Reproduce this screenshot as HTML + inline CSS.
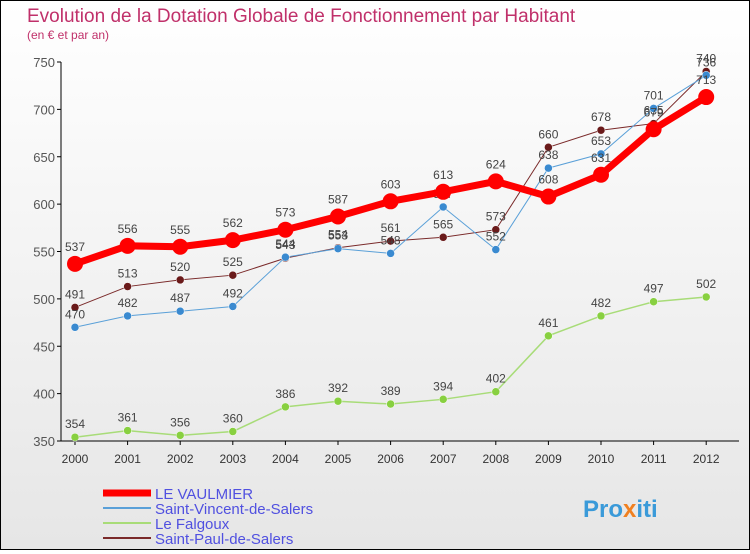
<!DOCTYPE html>
<html><head><meta charset="utf-8"><style>
body{margin:0}
#c{width:748px;height:548px;border:1px solid #000;background:linear-gradient(#fff,#e6e6e6);position:relative;font-family:"Liberation Sans",sans-serif}
</style></head><body>
<div id="c">
<svg id="s" width="748" height="548" xmlns="http://www.w3.org/2000/svg">
<text x="26" y="21" font-size="19" fill="#c0306a">Evolution de la Dotation Globale de Fonctionnement par Habitant</text>
<text x="26" y="38" font-size="12" fill="#c0306a">(en € et par an)</text>
<g id="axes"></g><g id="series"></g><g id="legend"></g>
<text x="582" y="516" font-size="24" font-weight="bold" fill="#3a9ad9">Pro<tspan fill="#f08020">x</tspan>iti</text>
</svg></div>
<script>
const years=[2000,2001,2002,2003,2004,2005,2006,2007,2008,2009,2010,2011,2012];
const yTicks=[350,400,450,500,550,600,650,700,750];
const vaulmier=[537,556,555,562,573,587,603,613,624,608,631,679,713];
const saintVincent=[470,482,487,492,544,553,548,597,552,638,653,701,736];
const leFalgoux=[354,361,356,360,386,392,389,394,402,461,482,497,502];
const saintPaul=[491,513,520,525,543,554,561,565,573,660,678,685,740];
const NS="http://www.w3.org/2000/svg";
const x=i=>74+i*52.6;
const y=v=>440-(v-350)*(379/400);
function mk(t,a,p){const e=document.createElementNS(NS,t);for(const k in a)e.setAttribute(k,a[k]);p.appendChild(e);return e;}
const ax=document.getElementById('axes');
const yl=mk('line',{x1:60,y1:y(750),x2:60,y2:440,stroke:'#000'},ax);


const xl=mk('line',{x1:60,y1:440,x2:738,y2:440,stroke:'#000'},ax);


yTicks.forEach(v=>{mk('line',{x1:56,y1:y(v),x2:60,y2:y(v),stroke:'#000'},ax);
const t=mk('text',{x:54,y:y(v)+5,'font-size':13,fill:'#555','text-anchor':'end'},ax);t.textContent=v;

});
years.forEach((yr,i)=>{mk('line',{x1:x(i),y1:440,x2:x(i),y2:444,stroke:'#000'},ax);
const t=mk('text',{x:x(i),y:462,'font-size':12,fill:'#333','text-anchor':'middle'},ax);t.textContent=yr;

});
const sg=document.getElementById('series');
const defs=[
{d:saintPaul,c:'#7a2a2a',dot:'#6a1a1a',w:1,r:4,n:'saint-paul-de-salers'},
{d:saintVincent,c:'#5aa0d8',dot:'#3a8ad0',w:1,r:4,n:'saint-vincent-de-salers'},
{d:leFalgoux,c:'#a8dc78',dot:'#88d040',w:1.5,r:4,n:'le-falgoux'},
{d:vaulmier,c:'#f00',dot:'#f00',w:7,r:8,n:'le-vaulmier'}];
defs.forEach(s=>{const g=mk('g',{},sg);


mk('polyline',{points:s.d.map((v,i)=>x(i)+','+y(v)).join(' '),fill:'none',stroke:s.c,'stroke-width':s.w},g);
s.d.forEach((v,i)=>{const c=mk('circle',{cx:x(i),cy:y(v),r:s.r,fill:s.dot,stroke:s.w>5?'none':'#fff','stroke-width':0.5},g);


const t=mk('text',{x:x(i),y:y(v)-(s.r+5),'font-size':12,fill:'#444','text-anchor':'middle'},g);t.textContent=v;

});});
const lg=document.getElementById('legend');
const leg=[['LE VAULMIER','#f00',7],['Saint-Vincent-de-Salers','#5aa0d8',2],['Le Falgoux','#a8dc78',2],['Saint-Paul-de-Salers','#7a2a2a',2]];
leg.forEach((l,i)=>{const yy=492+i*15;
const ln=mk('line',{x1:102,y1:yy,x2:150,y2:yy,stroke:l[1],'stroke-width':l[2]},lg);


const t=mk('text',{x:154,y:yy+6,'font-size':15,fill:'#5050e0'},lg);t.textContent=l[0];

});
</script></body></html>
